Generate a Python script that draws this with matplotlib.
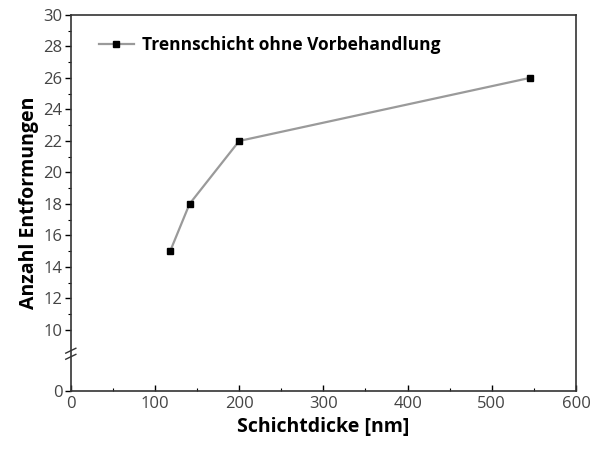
import numpy as np
import matplotlib.pyplot as plt
from matplotlib.ticker import FixedLocator, MultipleLocator

plt.rcParams['font.family'] = ['Open Sans', 'DejaVu Sans']

# Schichtdicke und Anzahl Entformungen
dicke = [118, 141, 200, 545]
entformungen = [15, 18, 22, 26]
label = 'Trennschicht ohne Vorbehandlung'

x_ticks = [0, 100, 200, 300, 400, 500, 600]
y_ticks = [0, 10, 12, 14, 16, 18, 20, 22, 24, 26, 28, 30]

# gestauchter Bereich 0..10 unterhalb des Achsenbruchs
LOW = 6.13
K = (10 - LOW) / 10.0


def fwd(y):
    y = np.asarray(y, dtype=float)
    return np.where(y >= 10, y, LOW + y * K)


def inv(y):
    y = np.asarray(y, dtype=float)
    return np.where(y >= 10, y, (y - LOW) / K)


fig = plt.figure(figsize=(5.95, 4.53), dpi=100)
ax = fig.add_axes([0.119, 0.137, 0.849, 0.830])

ax.plot(dicke, entformungen, color='#9a9a9a', lw=1.6, marker='s', ms=4.8,
        mfc='black', mec='black', label=label)

ax.set_yscale('function', functions=(fwd, inv))
ax.set_xlim(0, 600)
ax.set_ylim(0, 30)
ax.yaxis.set_major_locator(FixedLocator(y_ticks))
ax.yaxis.set_minor_locator(FixedLocator(np.arange(11, 30, 2)))
ax.xaxis.set_major_locator(FixedLocator(x_ticks))
ax.xaxis.set_minor_locator(MultipleLocator(50))

ax.tick_params(axis='y', which='major', direction='out', length=4, width=1,
               labelsize=12, labelcolor='#444444', pad=2)
ax.tick_params(axis='y', which='minor', direction='out', length=2, width=0.8)
ax.tick_params(axis='x', which='major', direction='in', length=4, width=1,
               labelsize=12, labelcolor='#444444', pad=4)
ax.tick_params(axis='x', which='minor', direction='in', length=2, width=0.8)

for s in ax.spines.values():
    s.set_linewidth(1.2)
    s.set_color('#333333')

# Achsenbruch-Markierung
ax.plot([-6, 6], [6.2, 7.0], color='#333333', lw=1, clip_on=False, zorder=5)
ax.plot([-6, 6], [5.2, 6.0], color='#333333', lw=1, clip_on=False, zorder=5)

ax.set_xlabel('Schichtdicke [nm]', fontsize=14, fontweight='bold', labelpad=3)
ax.set_ylabel('Anzahl Entformungen', fontsize=14, fontweight='bold', labelpad=3)

ax.legend(loc='upper left', bbox_to_anchor=(0.025, 0.985), frameon=False,
          handlelength=2.0, handletextpad=0.5,
          prop={'weight': 'bold', 'size': 12.5})

fig.savefig('out.png', dpi=100)
